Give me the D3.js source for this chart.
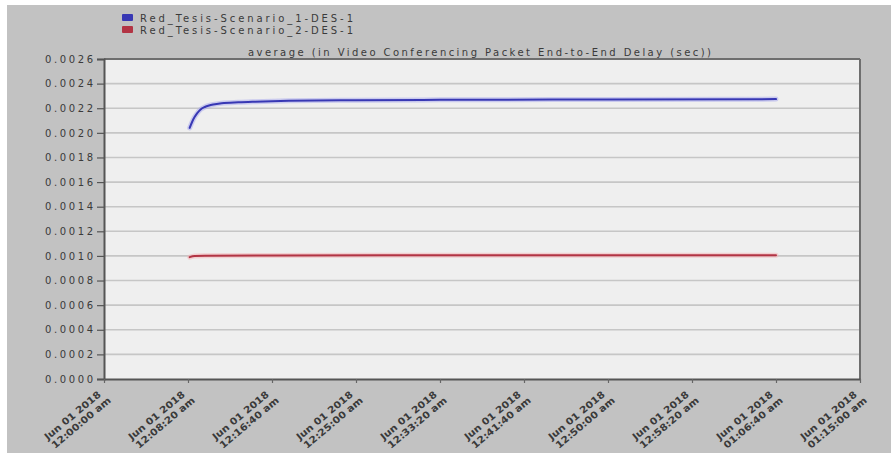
<!DOCTYPE html>
<html>
<head>
<meta charset="utf-8">
<script src="https://cdn.jsdelivr.net/npm/d3@7"></script>
<style>
  html, body { margin: 0; padding: 0; background: #ffffff; }
  svg { display: block; }
  text { font-family: "DejaVu Sans", Verdana, sans-serif; fill: #3a3a3a; }
</style>
</head>
<body>
<svg id="chart" width="891" height="459"></svg>
<script>
// Series names shown in the legend
const seriesNames = ["Red_Tesis-Scenario_1-DES-1", "Red_Tesis-Scenario_2-DES-1"];
const seriesColors = ["#3838b4", "#b23444"];
const haloColors = ["#ababec", "#f4b4b8"];

// Simulation time (seconds since 12:00:00 am) and average delay (sec)
const scenario1Time = [510, 525, 540, 555, 575, 600, 625, 650, 700, 800, 900, 1100, 1500, 2000, 3000, 4000];
const scenario1Delay = [0.00204, 0.00209, 0.00213, 0.00216, 0.00219, 0.00221, 0.002222, 0.00223, 0.00224, 0.002248, 0.002253, 0.00226, 0.002265, 0.002268, 0.002271, 0.002274];
const scenario2Time = [510, 540, 600, 1000, 2000, 3000, 4000];
const scenario2Delay = [0.00099, 0.001, 0.001002, 0.001004, 0.001005, 0.001006, 0.001006];

// Axis tick labels
const xTickSeconds = [0, 500, 1000, 1500, 2000, 2500, 3000, 3500, 4000, 4500];
const xTickDates = ["Jun 01 2018", "Jun 01 2018", "Jun 01 2018", "Jun 01 2018", "Jun 01 2018",
                    "Jun 01 2018", "Jun 01 2018", "Jun 01 2018", "Jun 01 2018", "Jun 01 2018"];
const xTickTimes = ["12:00:00 am", "12:08:20 am", "12:16:40 am", "12:25:00 am", "12:33:20 am",
                    "12:41:40 am", "12:50:00 am", "12:58:20 am", "01:06:40 am", "01:15:00 am"];
const yTickValues = [0, 0.0002, 0.0004, 0.0006, 0.0008, 0.0010, 0.0012, 0.0014, 0.0016, 0.0018,
                     0.0020, 0.0022, 0.0024, 0.0026];
const chartTitle = "average (in Video Conferencing Packet End-to-End Delay (sec))";

const svg = d3.select("#chart");
const W = 891, H = 459;
const plot = { left: 104, right: 860, top: 59, bottom: 379 };
const FONT = "'DejaVu Sans', Verdana, sans-serif";

// Outer grey panel
svg.append("rect").attr("x", 7).attr("y", 5).attr("width", W - 7).attr("height", 448)
  .attr("fill", "#c2c2c2");

const x = d3.scaleLinear().domain([0, 4500]).range([plot.left, plot.right]);
const y = d3.scaleLinear().domain([0, 0.0026]).range([plot.bottom, plot.top]);

// Plot background
svg.append("rect")
  .attr("x", plot.left).attr("y", plot.top)
  .attr("width", plot.right - plot.left).attr("height", plot.bottom - plot.top)
  .attr("fill", "#efefef");

// Horizontal grid lines
svg.append("g").selectAll("line").data(yTickValues.slice(1, -1)).join("line")
  .attr("x1", plot.left).attr("x2", plot.right)
  .attr("y1", d => y(d)).attr("y2", d => y(d))
  .attr("stroke", "#c6c6c6").attr("stroke-width", 1.6);

// Frame: top and right edges
svg.append("line").attr("x1", plot.left).attr("x2", plot.right).attr("y1", plot.top).attr("y2", plot.top)
  .attr("stroke", "#6e6e6e").attr("stroke-width", 2);
svg.append("line").attr("x1", plot.right).attr("x2", plot.right).attr("y1", plot.top).attr("y2", plot.bottom)
  .attr("stroke", "#6e6e6e").attr("stroke-width", 2);

// Y axis
const yAxis = d3.axisLeft(y).tickValues(yTickValues).tickFormat(d3.format(".4f")).tickSize(7).tickPadding(4);
const gy = svg.append("g").attr("transform", `translate(${plot.left},0)`).call(yAxis);
gy.select(".domain").attr("stroke", "#555").attr("stroke-width", 2);
gy.selectAll(".tick line").attr("stroke", "#555").attr("stroke-width", 1.2);
gy.selectAll(".tick text")
  .attr("font-size", 10).attr("fill", "#4a4a4a")
  .attr("font-family", FONT)
  .attr("textLength", 48).attr("lengthAdjust", "spacing");

// X axis
const xAxis = d3.axisBottom(x).tickValues(xTickSeconds).tickFormat("").tickSize(4).tickSizeOuter(0);
const gx = svg.append("g").attr("transform", `translate(0,${plot.bottom})`).call(xAxis);
gx.select(".domain").attr("stroke", "#555").attr("stroke-width", 2);
gx.selectAll(".tick line").attr("stroke", "#666").attr("stroke-width", 1.2);

// Two-line rotated tick labels
const xl = svg.append("g").selectAll("g").data(xTickSeconds).join("g")
  .attr("transform", d => `translate(${x(d)},${plot.bottom + 4}) rotate(-40)`);
xl.append("text")
  .attr("x", -10).attr("y", 8)
  .attr("text-anchor", "end")
  .attr("font-size", 9.5).attr("font-weight", "bold").attr("fill", "#4a4a4a")
  .attr("textLength", 70).attr("lengthAdjust", "spacingAndGlyphs")
  .text((d, i) => xTickDates[i]);
xl.append("text")
  .attr("x", -6).attr("y", 19)
  .attr("text-anchor", "end")
  .attr("font-size", 9.5).attr("font-weight", "bold").attr("fill", "#4a4a4a")
  .attr("textLength", 74).attr("lengthAdjust", "spacingAndGlyphs")
  .text((d, i) => xTickTimes[i]);

// Title above the plot
svg.append("text")
  .attr("x", 248).attr("y", 56)
  .attr("font-size", 10).attr("fill", "#3a3a3a")
  .attr("textLength", 463).attr("lengthAdjust", "spacing")
  .text(chartTitle);

// Series lines
const series = [
  { t: scenario1Time, v: scenario1Delay },
  { t: scenario2Time, v: scenario2Delay }
];
const line = d3.line().x(d => x(d[0])).y(d => y(d[1])).curve(d3.curveMonotoneX);
series.forEach((s, i) => {
  const pts = s.t.map((t, k) => [t, s.v[k]]);
  svg.append("path").datum(pts).attr("d", line)
    .attr("fill", "none").attr("stroke", haloColors[i]).attr("stroke-width", 5)
    .attr("stroke-opacity", 0.55).attr("stroke-linecap", "round");
  svg.append("path").datum(pts).attr("d", line)
    .attr("fill", "none").attr("stroke", seriesColors[i]).attr("stroke-width", 2)
    .attr("stroke-linecap", "round");
});

// Legend
const lg = svg.append("g").selectAll("g").data(seriesNames).join("g")
  .attr("transform", (d, i) => `translate(122,${14 + i * 12})`);
lg.append("rect").attr("width", 11).attr("height", 7).attr("rx", 1)
  .attr("fill", (d, i) => seriesColors[i]);
lg.append("text").attr("x", 18).attr("y", 7.5)
  .attr("font-size", 10).attr("fill", "#3a3a3a")
  .attr("textLength", 213).attr("lengthAdjust", "spacing")
  .text(d => d);
</script>
</body>
</html>
